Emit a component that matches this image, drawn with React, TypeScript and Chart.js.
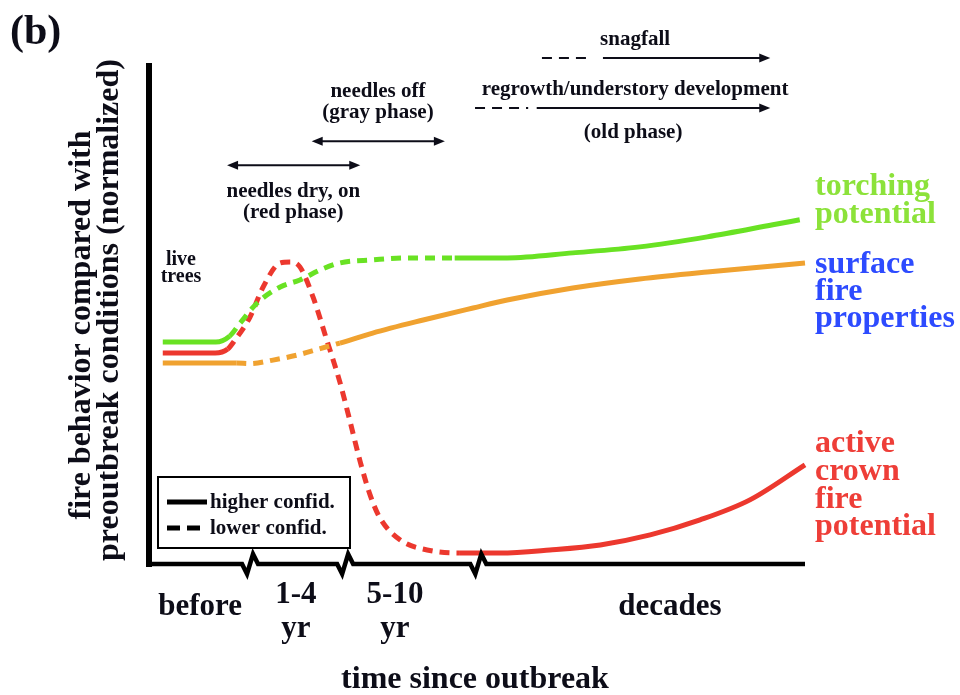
import React, { useEffect, useRef } from "react";
import { Chart, registerables } from "chart.js";

Chart.register(...registerables);

// ---------- Data (time since outbreak: 0–100 normalized units; fire behaviour: 0–100 normalized) ----------
const torchingX = [2.1, 10.2, 12.3, 13.9, 16.5, 20.0, 23.0, 26.1, 29.1, 34.1, 39.3, 46.6, 54.6, 64.6, 74.8, 85.1, 95.1, 99.2];
const torchingY = [44.3, 44.3, 45.5, 48.1, 52.1, 55.3, 56.7, 58.7, 60.1, 60.7, 61.1, 61.1, 61.1, 62.1, 63.3, 65.3, 67.7, 68.7];
const torchingConf = ["high", "high", "low", "low", "low", "low", "low", "low", "low", "low", "low", "high", "high", "high", "high", "high", "high"];

const surfaceX = [2.1, 13.3, 15.4, 18.9, 22.6, 26.1, 29.1, 34.1, 41.8, 49.4, 54.6, 64.6, 74.8, 85.1, 95.1, 100];
const surfaceY = [40.1, 40.1, 40.0, 40.7, 41.7, 43.0, 44.1, 46.1, 48.7, 51.1, 52.7, 55.1, 56.9, 58.3, 59.5, 60.1];
const surfaceConf = ["high", "low", "low", "low", "low", "low", "high", "high", "high", "high", "high", "high", "high", "high", "high"];

const crownX = [2.1, 10.1, 12.0, 13.1, 15.4, 17.4, 20.0, 21.5, 23.0, 25.0, 27.1, 29.1, 30.6, 32.2, 33.7, 35.2, 38.3, 42.4, 47.4, 53.5, 61.1, 68.8, 76.4, 84.0, 91.6, 100];
const crownY = [42.1, 42.1, 42.9, 44.7, 49.3, 55.3, 60.1, 60.3, 59.3, 53.3, 44.7, 36.3, 28.7, 20.4, 13.8, 9.2, 4.8, 2.8, 2.2, 2.2, 2.8, 3.8, 5.8, 8.8, 12.8, 19.8];
const crownConf = ["high", "high", "low", "low", "low", "low", "low", "low", "low", "low", "low", "low", "low", "low", "low", "low", "low", "low", "high", "high", "high", "high", "high", "high", "high"];

const timeTickValues = [7.8, 22.4, 37.5, 79.4];
const timeTickLabels = [["before"], ["1-4", "yr"], ["5-10", "yr"], ["decades"]];
const axisBreaks = [15.4, 29.9, 50.2];

const seriesLabels = [["torching", "potential"], ["surface", "fire", "properties"], ["active", "crown", "fire", "potential"]];

const GREEN = "rgb(105,226,35)";
const ORANGE = "rgb(240,162,48)";
const RED = "rgb(236,56,46)";
const INK = "#0d0d18";

const F = (s: number) => `bold ${s}px "Liberation Serif", "Times New Roman", serif`;

function head(ctx: CanvasRenderingContext2D, x: number, y: number, dir: number) {
  ctx.beginPath();
  ctx.moveTo(x, y);
  ctx.lineTo(x - dir * 11, y - 4.5);
  ctx.lineTo(x - dir * 11, y + 4.5);
  ctx.closePath();
  ctx.fill();
}

function hline(ctx: CanvasRenderingContext2D, x1: number, x2: number, y: number, dash: number[]) {
  ctx.setLineDash(dash);
  ctx.beginPath();
  ctx.moveTo(x1, y);
  ctx.lineTo(x2, y);
  ctx.stroke();
  ctx.setLineDash([]);
}

const overlay = {
  id: "overlay",
  beforeDraw(chart: any) {
    const ctx = chart.ctx;
    ctx.save();
    ctx.fillStyle = "#fff";
    ctx.fillRect(0, 0, chart.width, chart.height);
    ctx.restore();
  },
  afterDatasetsDraw(chart: any) {
    const ctx: CanvasRenderingContext2D = chart.ctx;
    const xs = chart.scales.x;
    const ys = chart.scales.y;
    const X = (v: number) => xs.getPixelForValue(v);
    const Y = (v: number) => ys.getPixelForValue(v);
    const { left, right, top, bottom } = chart.chartArea;
    ctx.save();

    // axes
    ctx.fillStyle = "#000";
    ctx.fillRect(left - 3, top, 6, bottom - top + 3);
    ctx.strokeStyle = "#000";
    ctx.lineWidth = 4.5;
    ctx.lineJoin = "miter";
    ctx.miterLimit = 3;
    ctx.beginPath();
    ctx.moveTo(left - 3, bottom);
    for (const b of axisBreaks) {
      const c = X(b);
      ctx.lineTo(c - 8, bottom);
      ctx.lineTo(c - 3, bottom + 10);
      ctx.lineTo(c + 3, bottom - 10);
      ctx.lineTo(c + 8, bottom);
    }
    ctx.lineTo(right, bottom);
    ctx.stroke();

    // x tick labels
    ctx.fillStyle = INK;
    ctx.font = F(31);
    ctx.textAlign = "center";
    ctx.textBaseline = "alphabetic";
    timeTickValues.forEach((v, i) => {
      const lines = timeTickLabels[i];
      if (lines.length === 1) ctx.fillText(lines[0], X(v), 615);
      else {
        ctx.fillText(lines[0], X(v), 603);
        ctx.fillText(lines[1], X(v), 637);
      }
    });

    // x title
    ctx.font = F(32);
    ctx.fillText("time since outbreak", 475, 688);

    // y title
    ctx.save();
    ctx.translate(90, 325);
    ctx.rotate(-Math.PI / 2);
    ctx.font = F(32);
    ctx.fillText("fire behavior compared with", 0, 0);
    ctx.restore();
    ctx.save();
    ctx.translate(118, 310);
    ctx.rotate(-Math.PI / 2);
    ctx.font = F(32);
    ctx.fillText("preoutbreak conditions (normalized)", 0, 0);
    ctx.restore();

    // panel tag
    ctx.textAlign = "left";
    ctx.font = F(42);
    ctx.fillText("(b)", 10, 44);

    // live trees
    ctx.textAlign = "center";
    ctx.font = F(20);
    ctx.fillText("live", 181, 265);
    ctx.fillText("trees", 181, 282);

    // phase annotations
    ctx.font = F(21);
    ctx.fillText("needles dry, on", X(22.0), 197);
    ctx.fillText("(red phase)", X(22.0), 218);
    ctx.fillText("needles off", X(34.9), 97);
    ctx.fillText("(gray phase)", X(34.9), 118);
    ctx.fillText("snagfall", X(74.1), 45);
    ctx.fillText("regrowth/understory development", X(74.1), 95);
    ctx.fillText("(old phase)", X(73.8), 138);

    ctx.strokeStyle = INK;
    ctx.fillStyle = INK;
    ctx.lineWidth = 2;
    // needles dry arrow
    let y = Y(79.6);
    hline(ctx, X(11.9) + 4, X(32.2) - 4, y, []);
    head(ctx, X(11.9), y, -1);
    head(ctx, X(32.2), y, 1);
    // needles off arrow
    y = Y(84.4);
    hline(ctx, X(24.8) + 4, X(45.1) - 4, y, []);
    head(ctx, X(24.8), y, -1);
    head(ctx, X(45.1), y, 1);
    // snagfall arrow
    y = Y(101.0);
    hline(ctx, X(59.9), X(66.8), y, [10, 7]);
    hline(ctx, X(69.2), X(94.7) - 4, y, []);
    head(ctx, X(94.7), y, 1);
    // regrowth arrow
    y = Y(91.0);
    hline(ctx, X(49.7), X(57.8), y, [10, 7]);
    hline(ctx, X(59.1), X(94.7) - 4, y, []);
    head(ctx, X(94.7), y, 1);

    // legend box
    ctx.lineWidth = 2;
    ctx.strokeStyle = "#000";
    ctx.strokeRect(158, 477, 192, 71);
    ctx.lineWidth = 5;
    hline(ctx, 167, 207, 502, []);
    hline(ctx, 167, 200, 528, [13, 7]);
    ctx.textAlign = "left";
    ctx.font = F(21);
    ctx.fillStyle = INK;
    ctx.fillText("higher confid.", 210, 508);
    ctx.fillText("lower confid.", 210, 534);

    // series labels at right
    ctx.font = F(32);
    const colors = ["rgb(140,226,58)", "rgb(45,75,255)", "rgb(238,62,56)"];
    const baselines = [[195, 223], [273, 300, 327], [452, 480, 508, 535]];
    seriesLabels.forEach((lines, i) => {
      ctx.fillStyle = colors[i];
      lines.forEach((t, j) => ctx.fillText(t, right + 10, baselines[i][j]));
    });

    ctx.restore();
  },
};

function mk(label: string, xsArr: number[], ysArr: number[], conf: string[], color: string) {
  return {
    label,
    data: xsArr.map((x, i) => ({ x, y: ysArr[i] })),
    borderColor: color,
    borderWidth: 5,
    borderCapStyle: "butt" as const,
    pointRadius: 0,
    cubicInterpolationMode: "monotone" as const,
    clip: false as any,
    segment: {
      borderDash: (c: any) => (conf[c.p0DataIndex] === "low" ? [10, 7] : undefined),
    },
  };
}

export default function App() {
  const ref = useRef<HTMLCanvasElement>(null);
  useEffect(() => {
    document.body.style.margin = "0";
    const chart = new Chart(ref.current!, {
      type: "line",
      data: {
        datasets: [
          mk("surface fire properties", surfaceX, surfaceY, surfaceConf, ORANGE),
          mk("torching potential", torchingX, torchingY, torchingConf, GREEN),
          mk("active crown fire potential", crownX, crownY, crownConf, RED),
        ] as any,
      },
      options: {
        responsive: false,
        animation: false,
        devicePixelRatio: 1,
        layout: { padding: { left: 149, right: 155, top: 63, bottom: 131 } },
        scales: {
          x: { type: "linear", min: 0, max: 100, display: false },
          y: { type: "linear", min: 0, max: 100, display: false },
        },
        plugins: { legend: { display: false }, tooltip: { enabled: false } },
      },
      plugins: [overlay],
    });
    return () => chart.destroy();
  }, []);
  return (
    <div style={{ position: "absolute", left: 0, top: 0, width: 960, height: 695 }}>
      <canvas ref={ref} width={960} height={695} style={{ width: 960, height: 695, display: "block" }} />
    </div>
  );
}
